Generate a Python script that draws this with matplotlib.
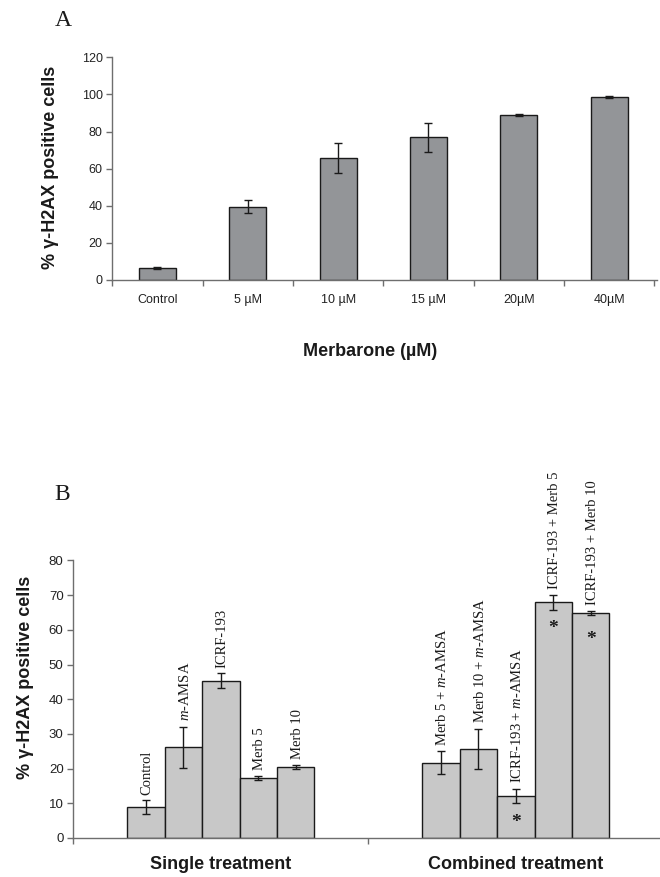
import numpy as np
import matplotlib
matplotlib.use("Agg")
import matplotlib.pyplot as plt
from matplotlib.ticker import FixedLocator, NullFormatter

plt.rcParams['font.family'] = ['Liberation Sans', 'DejaVu Sans']
plt.rcParams['mathtext.fontset'] = 'custom'
plt.rcParams['mathtext.rm'] = 'Liberation Serif'
plt.rcParams['mathtext.it'] = 'Liberation Serif:italic'

# Panel A: merbarone dose response
doses = ['Control', '5 µM', '10 µM', '15 µM', '20µM', '40µM']
dose_mean = [6.6, 39.5, 65.8, 76.8, 89.0, 98.6]
dose_err = [0.5, 3.6, 8.2, 7.8, 0.5, 0.3]

# Panel B: single vs combined treatments
single_names = ['Control', r'$\mathit{m}$-AMSA', 'ICRF-193', 'Merb 5', 'Merb 10']
single_mean = [8.9, 26.1, 45.3, 17.4, 20.5]
single_err = [2.0, 6.0, 2.2, 0.6, 0.6]

combo_names = [r'Merb 5 + $\mathit{m}$-AMSA', r'Merb 10 + $\mathit{m}$-AMSA',
               r'ICRF-193 + $\mathit{m}$-AMSA', 'ICRF-193 + Merb 5', 'ICRF-193 + Merb 10']
combo_mean = [21.7, 25.7, 12.1, 67.9, 64.9]
combo_err = [3.3, 5.8, 2.1, 2.2, 0.6]
combo_star = [False, False, True, True, True]

groups = ['Single treatment', 'Combined treatment']

W, H = 660, 877
fig = plt.figure(figsize=(W / 100, H / 100), dpi=100)


def px_axes(x0, y0, x1, y1):
    # axes box given in pixel coordinates from the top-left corner
    return fig.add_axes([x0 / W, 1 - y1 / H, (x1 - x0) / W, (y1 - y0) / H])


axis_col = '#6e6e6e'
err_kw = dict(ecolor='#1a1a1a', elinewidth=1.0, capsize=3, capthick=1.0)

# ---- A ----
axA = px_axes(112.3, 57.3, 657, 280)
xa = np.arange(len(doses)) + 0.5
axA.bar(xa, dose_mean, width=0.41, color='#939598', edgecolor='#1a1a1a',
        linewidth=1.0, yerr=dose_err, error_kw=err_kw, zorder=2)
axA.set_xlim(0, 6.03)
axA.set_ylim(0, 120)
axA.set_yticks(np.arange(0, 121, 20))
axA.xaxis.set_major_locator(FixedLocator(np.arange(0, 7)))
axA.xaxis.set_major_formatter(NullFormatter())
axA.set_xticks(xa, doses, minor=True)
axA.tick_params(axis='x', which='minor', length=0, pad=10, labelsize=9, labelcolor='#222222')
axA.tick_params(axis='x', which='major', length=4, color=axis_col, width=1)
axA.tick_params(axis='y', length=4, color=axis_col, width=1, labelsize=9, pad=3,
                labelcolor='#222222')
for s in ['top', 'right']:
    axA.spines[s].set_visible(False)
for s in ['left', 'bottom']:
    axA.spines[s].set_color(axis_col)
    axA.spines[s].set_linewidth(1.0)

fig.text(51 / W, 1 - 167.5 / H, '% γ-H2AX positive cells', rotation=90,
         ha='center', va='center', fontsize=13, fontweight='bold', color='#1a1a1a')
fig.text(370 / W, 1 - 352 / H, 'Merbarone (µM)', ha='center', va='center',
         fontsize=13, fontweight='bold', color='#1a1a1a')
fig.text(63 / W, 1 - 20 / H, 'A', ha='center', va='center', fontsize=17,
         family='Liberation Serif', color='#1a1a1a')

# ---- B ----
axB = px_axes(73.3, 560.4, 660, 838)
bw = 0.127
offs = (np.arange(5) - 2) * bw
xs = 0.5 + offs
xc = 1.5 + offs
for x, m, e in [(xs, single_mean, single_err), (xc, combo_mean, combo_err)]:
    axB.bar(x, m, width=bw, color='#c8c8c8', edgecolor='#1a1a1a', linewidth=1.0,
            yerr=e, error_kw=err_kw, zorder=2)

lab_kw = dict(textcoords='offset points', rotation=90, ha='center', va='bottom',
              fontsize=10.5, family='Liberation Serif', color='#1a1a1a')
for x, m, e, name in zip(xs, single_mean, single_err, single_names):
    axB.annotate(name, (x, m + e), xytext=(1, 4), **lab_kw)
for x, m, e, name, star in zip(xc, combo_mean, combo_err, combo_names, combo_star):
    axB.annotate(name, (x, m + e), xytext=(1, 4), **lab_kw)
    if star:
        # significance mark just inside the top of the bar
        axB.annotate('*', (x, m), xytext=(0, -19), textcoords='offset points',
                     ha='center', va='center', fontsize=14, fontweight='bold',
                     family='Liberation Serif', color='#1a1a1a')

axB.set_xlim(0, 586.7 / 295)
axB.set_ylim(0, 80)
axB.set_yticks(np.arange(0, 81, 10))
axB.xaxis.set_major_locator(FixedLocator([0, 1]))
axB.xaxis.set_major_formatter(NullFormatter())
axB.set_xticks([0.5, 1.5], groups, minor=True)
axB.tick_params(axis='x', which='minor', length=0, pad=13, labelsize=13)
axB.tick_params(axis='x', which='major', length=4, color=axis_col, width=1)
axB.tick_params(axis='y', length=4, color=axis_col, width=1, labelsize=9.5, pad=3,
                labelcolor='#222222')
for t in axB.get_xticklabels(minor=True):
    t.set_fontweight('bold')
    t.set_color('#1a1a1a')
for s in ['top', 'right']:
    axB.spines[s].set_visible(False)
for s in ['left', 'bottom']:
    axB.spines[s].set_color(axis_col)
    axB.spines[s].set_linewidth(1.0)

fig.text(26 / W, 1 - 677 / H, '% γ-H2AX positive cells', rotation=90,
         ha='center', va='center', fontsize=13, fontweight='bold', color='#1a1a1a')
fig.text(62 / W, 1 - 495 / H, 'B', ha='center', va='center', fontsize=17,
         family='Liberation Serif', color='#1a1a1a')

fig.savefig('out.png', dpi=100)
